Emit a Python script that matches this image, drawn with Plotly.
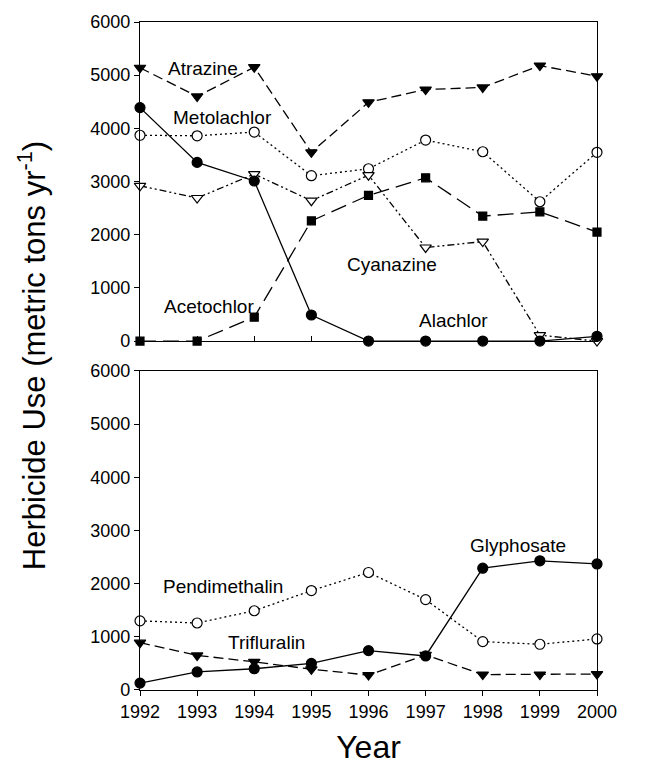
import plotly.graph_objects as go
from plotly.subplots import make_subplots

years = [1992, 1993, 1994, 1995, 1996, 1997, 1998, 1999, 2000]

# Upper panel: corn herbicides (metric tons per year)
atrazine = [5140, 4600, 5150, 3550, 4490, 4730, 4770, 5180, 4980]
metolachlor = [3870, 3860, 3930, 3110, 3240, 3780, 3560, 2620, 3550]
alachlor = [4390, 3360, 3010, 490, 0, 0, 0, 0, 90]
cyanazine = [2920, 2690, 3140, 2640, 3120, 1760, 1870, 110, 0]
acetochlor = [0, 0, 450, 2260, 2740, 3070, 2350, 2430, 2050]

# Lower panel: soybean herbicides (metric tons per year)
pendimethalin = [1300, 1260, 1490, 1870, 2210, 1700, 910, 860, 960]
glyphosate = [130, 340, 400, 500, 740, 640, 2290, 2430, 2370]
trifluralin = [890, 650, 530, 390, 280, 660, 290, 290, 300]

ytick_vals = [0, 1000, 2000, 3000, 4000, 5000, 6000]
ytick_text = ["0", "1000", "2000", "3000", "4000", "5000", "6000"]

FONT = "Liberation Sans, Arial, sans-serif"
BLACK = "black"
LW = 1.3

fig = make_subplots(rows=2, cols=1, vertical_spacing=0.0447)


def add_series(row, y, symbol, dash, filled=True, size=9):
    fig.add_trace(
        go.Scatter(
            x=years,
            y=y,
            mode="lines+markers",
            line=dict(color=BLACK, width=LW, dash=dash),
            marker=dict(
                symbol=symbol,
                size=size,
                color=BLACK if filled else "white",
                line=dict(color=BLACK, width=1.2),
            ),
            cliponaxis=False,
            showlegend=False,
        ),
        row=row,
        col=1,
    )


# upper panel
add_series(1, metolachlor, "circle", "2px,3px", filled=False, size=10)
add_series(1, cyanazine, "triangle-down", "7px,3px,2px,3px,2px,3px", filled=False, size=10)
add_series(1, acetochlor, "square", "16px,7px", size=8)
add_series(1, alachlor, "circle", "solid", size=10)
add_series(1, atrazine, "triangle-down", "10px,5px", size=10)

# lower panel
add_series(2, pendimethalin, "circle", "2px,3px", filled=False, size=10)
add_series(2, trifluralin, "triangle-down", "10px,5px", size=10)
add_series(2, glyphosate, "circle", "solid", size=10)

axis_common = dict(
    showline=True,
    linecolor=BLACK,
    linewidth=LW,
    mirror=True,
    showgrid=False,
    zeroline=False,
    tickcolor=BLACK,
    ticklen=5,
    tickwidth=1,
    tickfont=dict(family=FONT, size=18, color=BLACK),
)

for r in (1, 2):
    fig.update_yaxes(
        range=[0, 6000],
        tickvals=ytick_vals,
        ticktext=ytick_text,
        ticks="outside",
        row=r,
        col=1,
        **axis_common,
    )

fig.update_xaxes(
    range=[1992, 2000],
    tickvals=years,
    ticks="inside",
    showticklabels=False,
    row=1,
    col=1,
    **axis_common,
)
fig.update_xaxes(
    range=[1992, 2000],
    tickvals=years,
    ticktext=[str(y) for y in years],
    ticks="outside",
    title=dict(text="Year", font=dict(family=FONT, size=32, color=BLACK), standoff=14),
    row=2,
    col=1,
    **axis_common,
)

# herbicide name labels
label_font = dict(family=FONT, size=19, color=BLACK)
labels_top = [
    ("Atrazine", 1993.10, 5130),
    ("Metolachlor", 1993.45, 4200),
    ("Cyanazine", 1996.41, 1440),
    ("Acetochlor", 1993.21, 650),
    ("Alachlor", 1997.48, 390),
]
labels_bottom = [
    ("Glyphosate", 1998.61, 2720),
    ("Pendimethalin", 1993.46, 1950),
    ("Trifluralin", 1994.22, 900),
]
for text, x, y in labels_top:
    fig.add_annotation(x=x, y=y, xref="x", yref="y", text=text, showarrow=False,
                       font=label_font, xanchor="center", yanchor="middle")
for text, x, y in labels_bottom:
    fig.add_annotation(x=x, y=y, xref="x2", yref="y2", text=text, showarrow=False,
                       font=label_font, xanchor="center", yanchor="middle")

# shared y-axis title
fig.add_annotation(
    x=-0.236, y=0.5, xref="paper", yref="paper",
    text="Herbicide Use (metric tons yr<sup>-1</sup>)",
    textangle=-90, showarrow=False,
    font=dict(family=FONT, size=31, color=BLACK),
    xanchor="center", yanchor="middle",
)

fig.update_layout(
    width=650,
    height=774,
    margin=dict(l=140, r=53, t=19, b=84),
    paper_bgcolor="white",
    plot_bgcolor="white",
    font=dict(family=FONT, color=BLACK),
)

fig.write_html("out.html")
